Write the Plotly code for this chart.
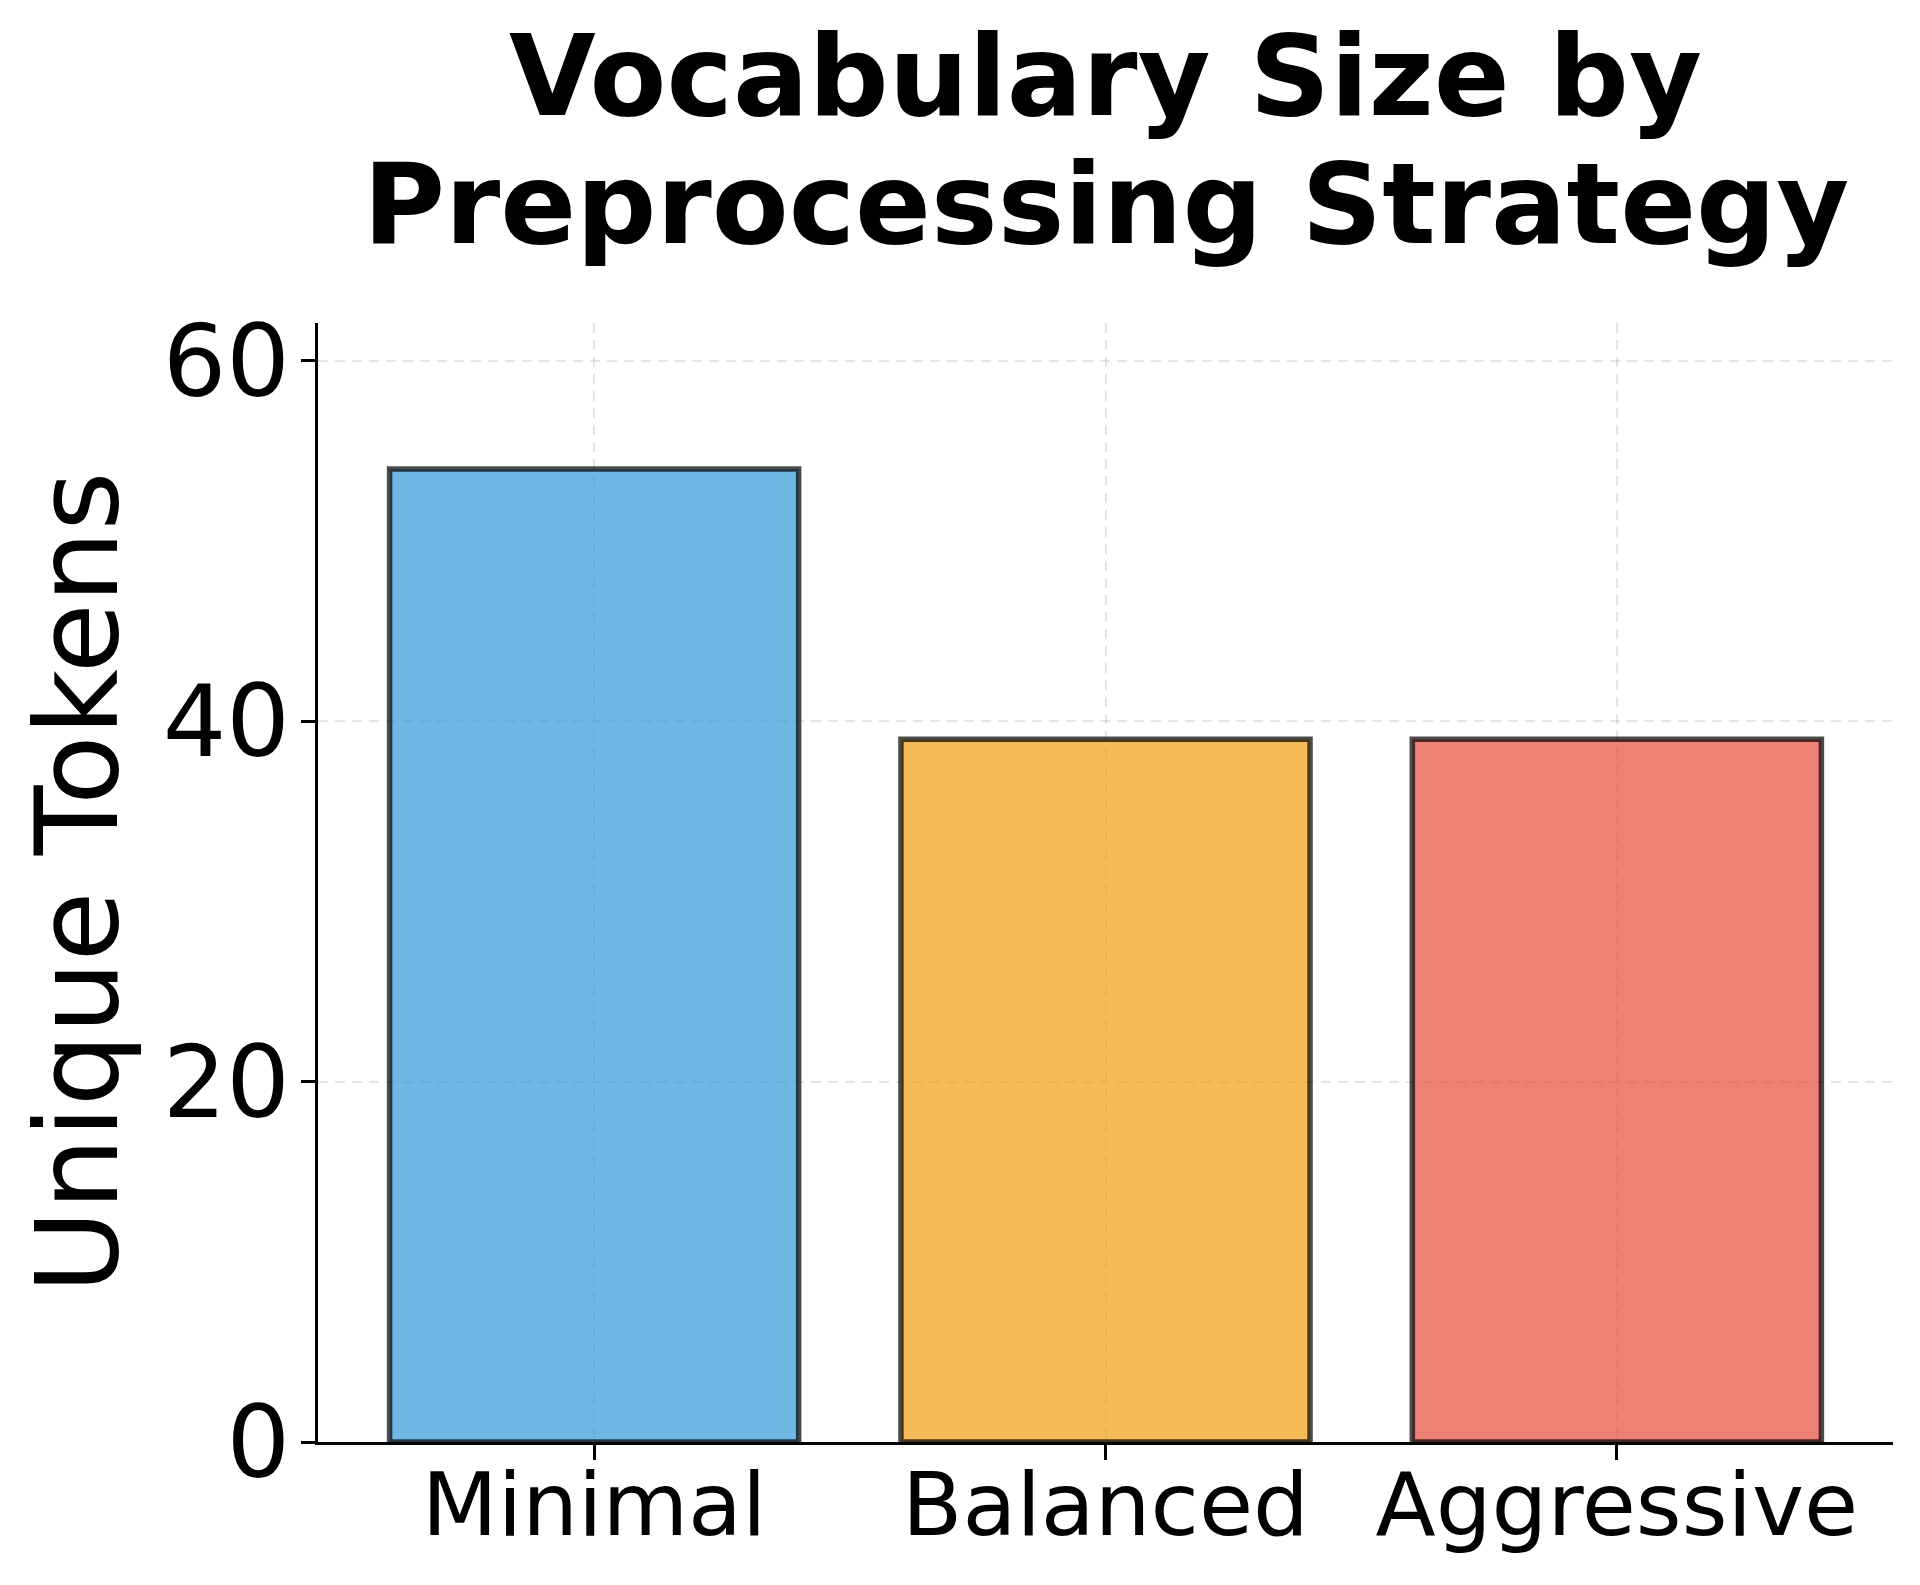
import plotly.graph_objects as go

# %%
strategies = ["Minimal", "Balanced", "Aggressive"]
unique_tokens = [54, 39, 39]
bar_colors = ["rgba(52,152,219,0.7)", "rgba(243,156,18,0.7)", "rgba(231,76,60,0.7)"]
y_ticks = [0, 20, 40, 60]

FONT = "DejaVu Sans"
grid = dict(
    showgrid=True,
    gridcolor="rgba(170,170,170,0.3)",
    gridwidth=2,
    griddash="10px,7px",
)

fig = go.Figure(
    layout=go.Layout(
        template="plotly_white",
        width=1920,
        height=1585,
        margin=dict(l=318, r=27, t=323, b=143),
        showlegend=False,
        plot_bgcolor="white",
        paper_bgcolor="white",
        font=dict(family=FONT, color="black"),
    )
)

fig.add_trace(
    go.Bar(
        x=list(range(len(strategies))),
        y=unique_tokens,
        width=0.8,
        marker=dict(color=bar_colors, line=dict(color="rgba(0,0,0,0.7)", width=5.5)),
    )
)

fig.update_xaxes(
    range=[-0.54, 2.54],
    tickmode="array",
    tickvals=list(range(len(strategies))),
    ticktext=strategies,
    tickfont=dict(size=88, family=FONT),
    ticks="outside",
    ticklen=15,
    tickwidth=3,
    tickcolor="black",
    ticklabelstandoff=-31,
    showline=True,
    linecolor="black",
    linewidth=3,
    zeroline=False,
    **grid,
)
fig.update_yaxes(
    range=[0, 62.1],
    tickvals=y_ticks,
    tickfont=dict(size=100, family=FONT),
    ticks="outside",
    ticklen=14,
    tickwidth=3,
    tickcolor="black",
    ticklabelstandoff=-9,
    showline=True,
    linecolor="black",
    linewidth=3,
    zeroline=False,
    **grid,
)

# title lines and y label as annotations so the spacing matches
fig.add_annotation(
    text="<b>Vocabulary Size by</b>", xref="paper", yref="paper", x=0.5, y=1,
    xanchor="center", yanchor="bottom", yshift=180, showarrow=False,
    font=dict(size=112, family=FONT, color="black"),
)
fig.add_annotation(
    text="<b>Preprocessing Strategy</b>", xref="paper", yref="paper", x=0.5, y=1,
    xanchor="center", yanchor="bottom", yshift=52, showarrow=False,
    font=dict(size=112, family=FONT, color="black"),
)
fig.add_annotation(
    text="Unique Tokens", xref="paper", yref="paper", x=0, y=0.5,
    xanchor="center", yanchor="middle", xshift=-241, textangle=-90, showarrow=False,
    font=dict(size=114, family=FONT, color="black"),
)

# drop the default page margin so the 1920x1585 figure fills the window exactly
fig.write_html(
    "out.html",
    config={"displayModeBar": False},
    post_script="document.body.style.margin='0';",
)
